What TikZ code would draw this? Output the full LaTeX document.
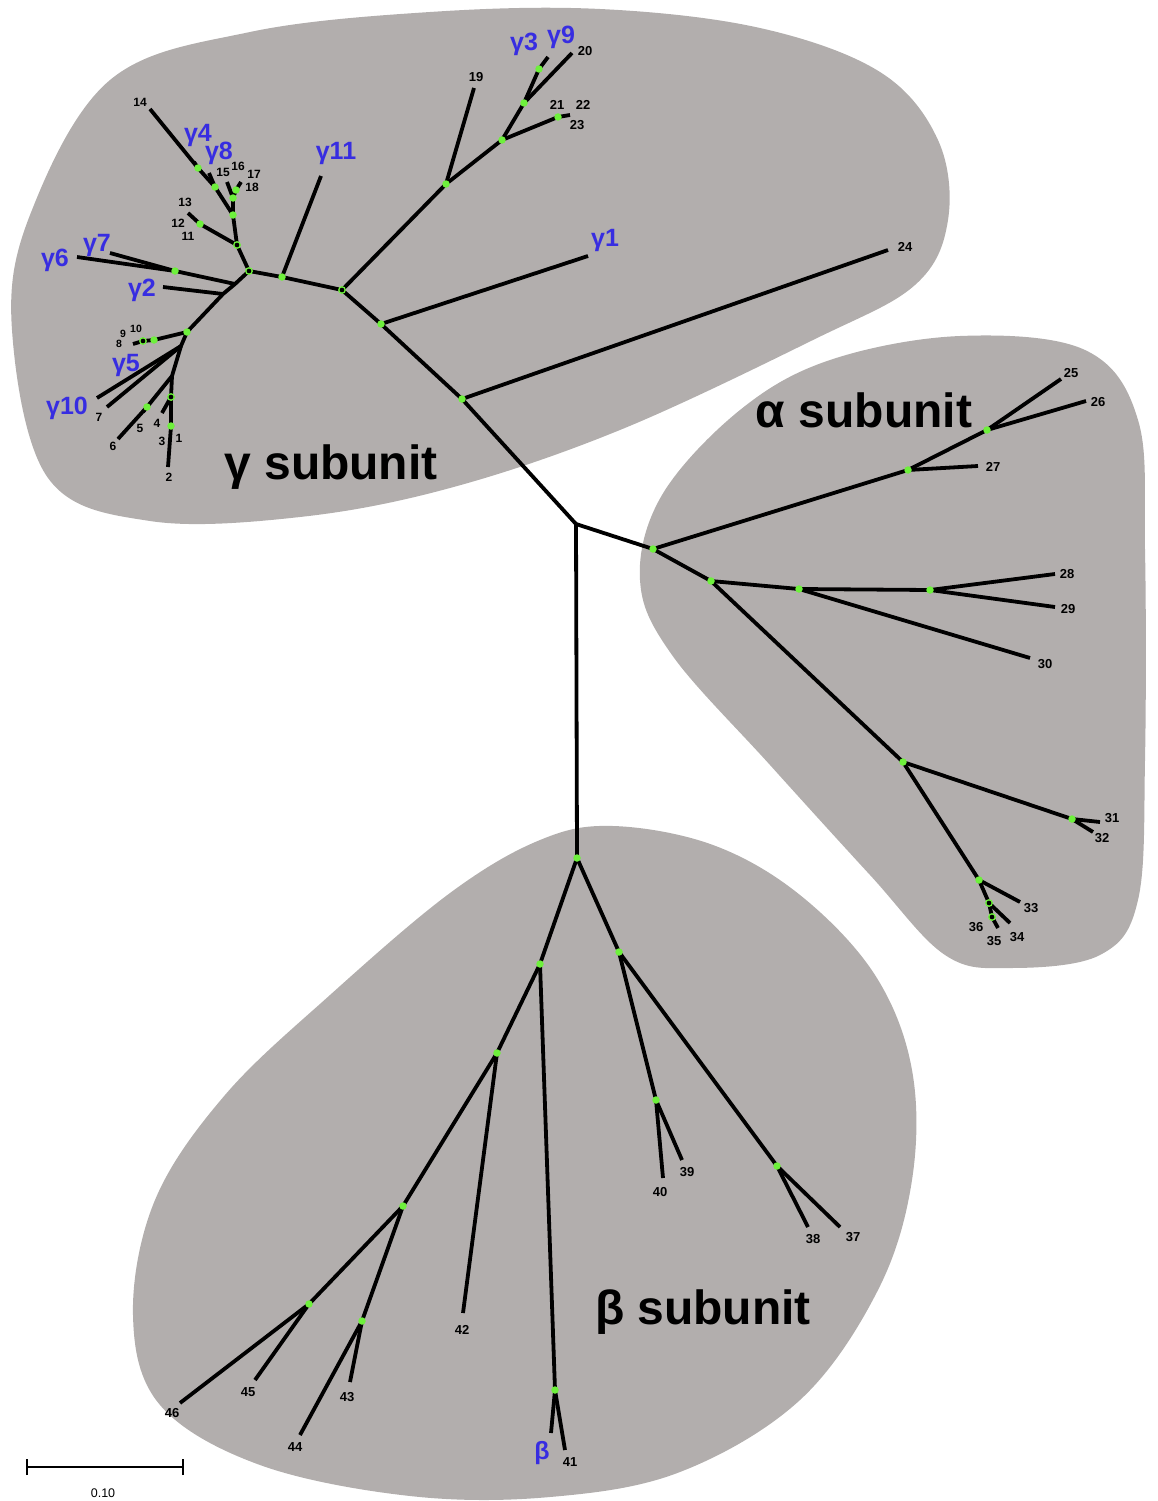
\documentclass[tikz,border=0pt]{standalone}
\usepackage{fontspec}
\setmainfont{Liberation Sans}
\definecolor{blob}{RGB}{178,174,173}
\definecolor{gdot}{RGB}{110,240,60}
\definecolor{lblue}{RGB}{55,45,225}
\begin{document}
\begin{tikzpicture}[x=1pt,y=-1pt,
  br/.style={line width=3.8pt},
  dotg/.style={fill=gdot, draw=none, circle, inner sep=0pt, minimum size=7.5pt},
  ring/.style={draw=gdot, fill=black, circle, inner sep=0pt, minimum size=6.5pt, line width=1.3pt},
  num/.style={font=\fontsize{13}{13}\selectfont\bfseries, inner sep=0pt},
  snum/.style={font=\fontsize{12}{12}\selectfont\bfseries, inner sep=0pt},
  tnum/.style={font=\fontsize{10.5}{10.5}\selectfont\bfseries, inner sep=0pt},
  glab/.style={font=\fontsize{25}{25}\selectfont\bfseries, text=lblue, inner sep=0pt},
  big/.style={font=\fontsize{48}{48}\selectfont\bfseries, inner sep=0pt}]
\useasboundingbox (0,0) rectangle (1158,1501);
% blobs
\fill[blob] plot[smooth cycle, tension=0.6] coordinates {(12,330) (30,215) (110,80) (250,32) (430,12) (600,9) (760,28) (880,72) (938,140) (948,220) (915,285) (813,340) (620,430) (450,488) (300,517) (150,521) (48,478)};
\fill[blob] plot[smooth cycle, tension=0.6] coordinates {(640,580) (662,495) (740,410) (830,360) (960,336) (1085,350) (1138,420) (1145,550) (1145,760) (1138,900) (1100,955) (1010,968) (945,955) (870,875) (770,765) (672,655)};
\fill[blob] plot[smooth cycle, tension=0.6] coordinates {(613,826) (713,845) (800,895) (875,975) (912,1070) (912,1180) (878,1290) (800,1400) (680,1472) (550,1497) (410,1496) (260,1465) (160,1405) (133,1315) (155,1200) (225,1095) (330,995) (450,893) (540,840)};
% coordinates
\coordinate (root) at (576,524);
\coordinate (g1) at (462,399); \coordinate (l24) at (888,250);
\coordinate (g2) at (381,324); \coordinate (lg1) at (588,256);
\coordinate (g3) at (342,290);
\coordinate (g4) at (446,184); \coordinate (l19) at (474,88);
\coordinate (g5) at (502,140);
\coordinate (g6) at (524,103); \coordinate (g7) at (539,69); \coordinate (lg3) at (548,57); \coordinate (l20) at (572,53);
\coordinate (g8) at (558,117); \coordinate (l21) at (570,115);
\coordinate (g9) at (282,277); \coordinate (lg11) at (321,176);
\coordinate (g10) at (249,271);
\coordinate (g11) at (237,245);
\coordinate (g12) at (233,215);
\coordinate (g13) at (233,198); \coordinate (l15) at (227,182);
\coordinate (g14) at (236,190); \coordinate (l17) at (241,182);
\coordinate (g15) at (215,187); \coordinate (lg8) at (209,173);
\coordinate (g16) at (198,168); \coordinate (l14) at (150,109); \coordinate (lg4) at (194,162);
\coordinate (g17) at (200,224); \coordinate (l13) at (188,213);
\coordinate (j1) at (235,284);
\coordinate (g18) at (175,271); \coordinate (lg6) at (77,257); \coordinate (lg7) at (110,253);
\coordinate (j2) at (223,294); \coordinate (lg2) at (163,287);
\coordinate (g19) at (187,332);
\coordinate (g20) at (154,340); \coordinate (r1) at (143,341); \coordinate (l8) at (133,344);
\coordinate (j3) at (181,346); \coordinate (lg10) at (97,398); \coordinate (l7) at (107,407);
\coordinate (j4) at (172,376);
\coordinate (g21) at (147,407); \coordinate (l6) at (118,439); \coordinate (l5) at (143,412);
\coordinate (r2) at (171,397); \coordinate (g22) at (171,426); \coordinate (l2) at (168,467); \coordinate (l4) at (162,413);
% alpha
\coordinate (a0) at (653,549);
\coordinate (a1) at (908,470); \coordinate (l27) at (978,466);
\coordinate (a2) at (987,430); \coordinate (l25) at (1061,379); \coordinate (l26) at (1086,401);
\coordinate (a3) at (711,581); \coordinate (a4) at (799,589); \coordinate (a5) at (930,590);
\coordinate (l28) at (1055,574); \coordinate (l29) at (1055,607); \coordinate (l30) at (1030,658);
\coordinate (a6) at (903,762); \coordinate (a7) at (1072,819); \coordinate (l31) at (1100,822); \coordinate (l32) at (1093,832);
\coordinate (a8) at (979,880); \coordinate (l33) at (1020,902);
\coordinate (r3) at (989,903); \coordinate (l34) at (1010,923);
\coordinate (r4) at (992,917); \coordinate (l35) at (998,928);
% beta
\coordinate (b0) at (577,858);
\coordinate (b1) at (540,964); \coordinate (b2) at (555,1390); \coordinate (lb) at (551,1433); \coordinate (l41) at (565,1450);
\coordinate (b3) at (497,1053); \coordinate (l42) at (463,1313);
\coordinate (b4) at (403,1206);
\coordinate (b5) at (309,1304); \coordinate (l46) at (180,1403); \coordinate (l45) at (255,1380);
\coordinate (b6) at (362,1321); \coordinate (l44) at (300,1435); \coordinate (l43) at (350,1382);
\coordinate (b7) at (619,952);
\coordinate (b8) at (656,1100); \coordinate (l40) at (663,1178); \coordinate (l39) at (682,1160);
\coordinate (b9) at (777,1166); \coordinate (l38) at (808,1227); \coordinate (l37) at (840,1227);
% edges
\draw[br] (root) -- (g1) -- (g2) -- (g3);
\draw[br] (g1) -- (l24); \draw[br] (g2) -- (lg1);
\draw[br] (g3) -- (g4) -- (l19); \draw[br] (g4) -- (g5) -- (g6) -- (g7) -- (lg3);
\draw[br] (g6) -- (l20); \draw[br] (g5) -- (g8) -- (l21);
\draw[br] (g3) -- (g9) -- (lg11); \draw[br] (g9) -- (g10) -- (g11) -- (g12) -- (g13) -- (l15);
\draw[br] (g13) -- (g14) -- (l17);
\draw[br] (g12) -- (g15) -- (g16) -- (l14); \draw[br] (g15) -- (lg8); \draw[br] (g16) -- (lg4);
\draw[br] (g11) -- (g17) -- (l13);
\draw[br] (g10) -- (j1) -- (j2) -- (g19);
\draw[br] (j1) -- (g18) -- (lg6); \draw[br] (g18) -- (lg7);
\draw[br] (j2) -- (lg2);
\draw[br] (g19) -- (g20) -- (r1) -- (l8);
\draw[br] (g19) -- (j3) -- (lg10); \draw[br] (j3) -- (l7);
\draw[br] (j3) -- (j4) -- (g21) -- (l6); \draw[br] (g21) -- (l5);
\draw[br] (j4) -- (r2) -- (g22) -- (l2); \draw[br] (r2) -- (l4);
\draw[br] (root) -- (a0) -- (a1) -- (l27); \draw[br] (a1) -- (a2) -- (l25); \draw[br] (a2) -- (l26);
\draw[br] (a0) -- (a3) -- (a4) -- (a5) -- (l28); \draw[br] (a5) -- (l29); \draw[br] (a4) -- (l30);
\draw[br] (a3) -- (a6) -- (a7) -- (l31); \draw[br] (a7) -- (l32);
\draw[br] (a6) -- (a8) -- (l33); \draw[br] (a8) -- (r3) -- (l34); \draw[br] (r3) -- (r4) -- (l35);
\draw[br] (root) -- (b0) -- (b1) -- (b2) -- (lb); \draw[br] (b2) -- (l41);
\draw[br] (b1) -- (b3) -- (l42); \draw[br] (b3) -- (b4) -- (b5) -- (l46); \draw[br] (b5) -- (l45);
\draw[br] (b4) -- (b6) -- (l44); \draw[br] (b6) -- (l43);
\draw[br] (b0) -- (b7) -- (b8) -- (l40); \draw[br] (b8) -- (l39);
\draw[br] (b7) -- (b9) -- (l38); \draw[br] (b9) -- (l37);
% dots
\foreach \p in {g1,g2,g4,g5,g6,g7,g8,g9,g12,g13,g14,g15,g16,g17,g18,g19,g20,g21,g22,a0,a1,a2,a3,a4,a5,a6,a7,a8,b0,b1,b2,b3,b4,b5,b6,b7,b8,b9}
  \node[dotg] at (\p) {};
\foreach \p in {g3,g10,g11,r1,r2,r3,r4}
  \node[ring] at (\p) {};
% leaf labels
\node[num] (t24) at (905,247) {24};
\node[glab] (tg1) at (605,240) {γ1};
\node[num] (t19) at (476,77) {19};
\node[glab] (tg3) at (524,44) {γ3};
\node[glab] (tg9) at (561,37) {γ9};
\node[num] (t20) at (585,51) {20};
\node[num] (t21) at (557,105) {21};
\node[num] (t22) at (583,105) {22};
\node[num] (t23) at (577,125) {23};
\node[glab] (tg11) at (336,153) {γ11};
\node[snum] (t14) at (140,102) {14};
\node[glab] (tg4) at (198,135) {γ4};
\node[glab] (tg8) at (219,153) {γ8};
\node[snum] (t15) at (223,172) {15};
\node[snum] (t16) at (238,166) {16};
\node[snum] (t17) at (254,174) {17};
\node[snum] (t18) at (252,187) {18};
\node[snum] (t13) at (185,202) {13};
\node[snum] (t12) at (178,223) {12};
\node[snum] (t11) at (188,236) {11};
\node[glab] (tg6) at (55,260) {γ6};
\node[glab] (tg7) at (97,245) {γ7};
\node[glab] (tg2) at (142,290) {γ2};
\node[tnum] (t9) at (123,334) {9};
\node[tnum] (t10) at (136,329) {10};
\node[tnum] (t8) at (119,344) {8};
\node[glab] (tg5) at (126,365) {γ5};
\node[glab] (tg10) at (67,408) {γ10};
\node[snum] (t7) at (99,417) {7};
\node[snum] (t6) at (113,446) {6};
\node[snum] (t5) at (140,428) {5};
\node[snum] (t4) at (157,423) {4};
\node[snum] (t3) at (162,441) {3};
\node[snum] (t1) at (179,438) {1};
\node[snum] (t2) at (169,477) {2};
\node[num] (t25) at (1071,373) {25};
\node[num] (t26) at (1098,402) {26};
\node[num] (t27) at (993,467) {27};
\node[num] (t28) at (1067,574) {28};
\node[num] (t29) at (1068,609) {29};
\node[num] (t30) at (1045,664) {30};
\node[num] (t31) at (1112,818) {31};
\node[num] (t32) at (1102,838) {32};
\node[num] (t33) at (1031,908) {33};
\node[num] (t34) at (1017,937) {34};
\node[num] (t35) at (994,941) {35};
\node[num] (t36) at (976,927) {36};
\node[num] (t37) at (853,1237) {37};
\node[num] (t38) at (813,1239) {38};
\node[num] (t39) at (687,1172) {39};
\node[num] (t40) at (660,1192) {40};
\node[num] (t41) at (570,1462) {41};
\node[glab] (tb) at (542,1453) {β};
\node[num] (t42) at (462,1330) {42};
\node[num] (t43) at (347,1397) {43};
\node[num] (t44) at (295,1447) {44};
\node[num] (t45) at (248,1392) {45};
\node[num] (t46) at (172,1413) {46};
% group titles
\node[big] (tgam) at (331,467) {γ subunit};
\node[big] (talp) at (864,410) {α subunit};
\node[big] (tbet) at (703,1312) {β subunit};
% scale bar
\coordinate (s1) at (27,1467); \coordinate (s2) at (183,1467);
\draw[line width=1.8pt] (s1) -- (s2);
\draw[line width=1.8pt] ([yshift=-8pt]s1) -- ([yshift=8pt]s1);
\draw[line width=1.8pt] ([yshift=-8pt]s2) -- ([yshift=8pt]s2);
\node[font=\fontsize{12.5}{12.5}\selectfont, inner sep=0pt] (sc) at (103,1493) {0.10};
\end{tikzpicture}
\end{document}
